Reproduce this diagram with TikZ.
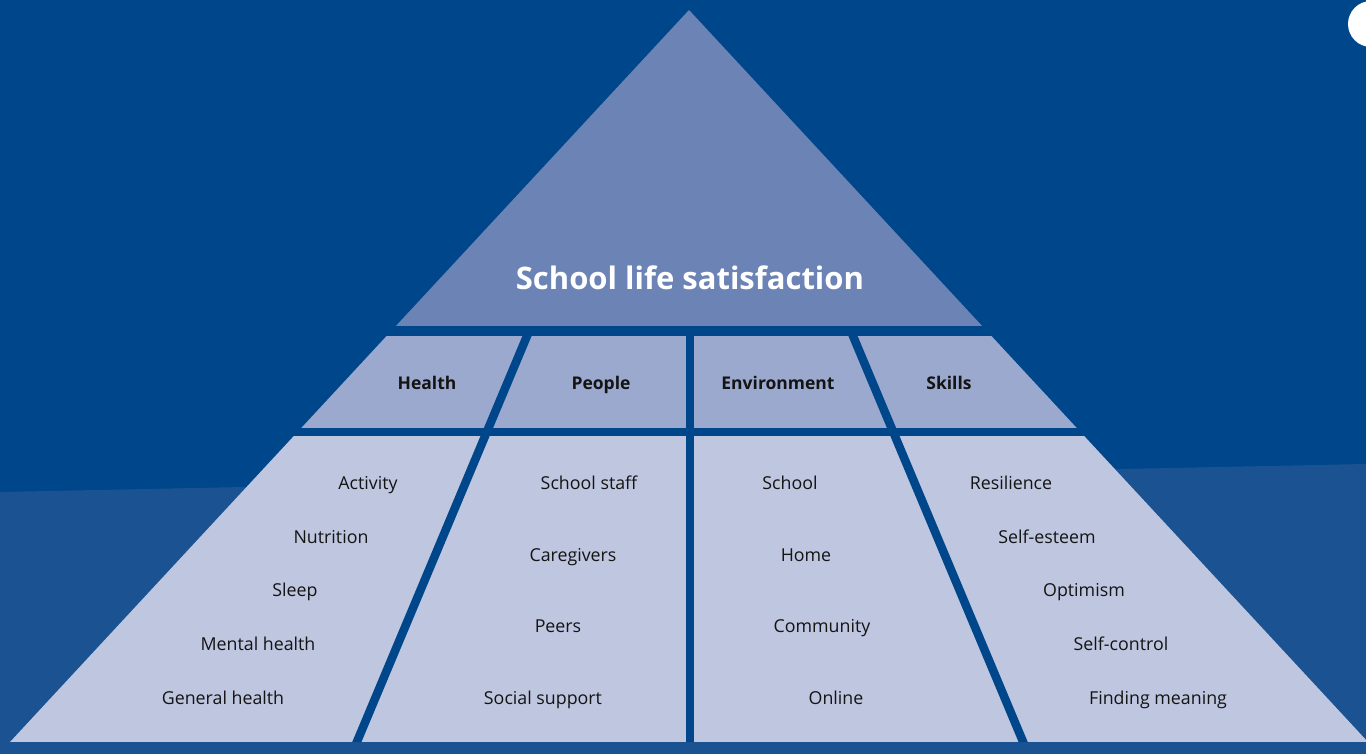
\documentclass[tikz,border=0pt]{standalone}
\usepackage{fontspec}
\setmainfont{Open Sans}
\usepackage{tikz}
\definecolor{bgDark}{HTML}{00468B}
\definecolor{bgBand}{HTML}{1B5392}
\definecolor{topBlue}{HTML}{6C83B5}
\definecolor{midBlue}{HTML}{9BA9CE}
\definecolor{lowBlue}{HTML}{BFC6E0}
\definecolor{ink}{HTML}{141414}
\tikzset{
  divider/.style={draw=bgDark, line width=8.5pt},
  titleText/.style={text=white, font=\bfseries\fontsize{31}{31}\selectfont, anchor=base},
  tierText/.style={text=ink, font=\bfseries\fontsize{17.5}{17.5}\selectfont, anchor=base},
  itemText/.style={text=ink, font=\fontsize{17.8}{17.8}\selectfont, anchor=base}
}
\begin{document}
\begin{tikzpicture}[x=1pt, y=-1pt]
  \useasboundingbox (0,0) rectangle (1366,754);
  \fill[bgDark] (0,0) rectangle (1366,754);
  \fill[bgBand] (0,492) -- (1366,464) -- (1366,754) -- (0,754) -- cycle;
  \fill[white] (1371,24) circle (23);

  \coordinate (apex) at (689,10);
  \coordinate (baseL) at (10,742);
  \coordinate (baseR) at (1368,742);

  \begin{scope}
    \clip (apex) -- (baseL) -- (baseR) -- cycle;
    \fill[bgDark] (0,0) rectangle (1366,742);
    \fill[topBlue] (0,0) rectangle (1366,326);
    \fill[midBlue] (0,336) rectangle (1366,428);
    \fill[lowBlue] (0,436) rectangle (1366,742);

    \coordinate (d1top) at (529.1,331);
    \coordinate (d1bot) at (349.3,760);
    \coordinate (d2top) at (690,331);
    \coordinate (d2bot) at (690,760);
    \coordinate (d3top) at (850.9,331);
    \coordinate (d3bot) at (1030.7,760);
    \draw[divider] (d1top) -- (d1bot);
    \draw[divider] (d2top) -- (d2bot);
    \draw[divider] (d3top) -- (d3bot);
  \end{scope}

  \node[titleText] (title) at (690,290) {School life satisfaction};

  \node[tierText] (health) at (427,389) {Health};
  \node[tierText] (people) at (601,389) {People};
  \node[tierText] (environment) at (778,389) {Environment};
  \node[tierText] (skills) at (949,389) {Skills};

  \node[itemText] (activity) at (368,489) {Activity};
  \node[itemText] (nutrition) at (331,543) {Nutrition};
  \node[itemText] (sleep) at (295,596) {Sleep};
  \node[itemText] (mental) at (258,650) {Mental health};
  \node[itemText] (general) at (223,704) {General health};

  \node[itemText] (staff) at (589,489) {School staff};
  \node[itemText] (caregivers) at (573,561) {Caregivers};
  \node[itemText] (peers) at (558,632) {Peers};
  \node[itemText] (support) at (543,704) {Social support};

  \node[itemText] (school) at (790,489) {School};
  \node[itemText] (home) at (806,561) {Home};
  \node[itemText] (community) at (822,632) {Community};
  \node[itemText] (online) at (836,704) {Online};

  \node[itemText] (resilience) at (1011,489) {Resilience};
  \node[itemText] (esteem) at (1047,543) {Self-esteem};
  \node[itemText] (optimism) at (1084,596) {Optimism};
  \node[itemText] (control) at (1121,650) {Self-control};
  \node[itemText] (meaning) at (1158,704) {Finding meaning};
\end{tikzpicture}
\end{document}
